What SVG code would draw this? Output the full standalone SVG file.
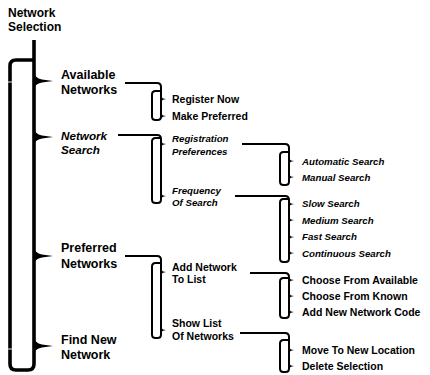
<svg xmlns="http://www.w3.org/2000/svg" width="430" height="375" viewBox="0 0 430 375">
<style>
text{font-family:"Liberation Sans",Arial,sans-serif;font-weight:bold;fill:#000}
.t1{font-size:12.5px}
.t0{font-size:12px}
.i1{font-size:11.7px;font-style:italic}
.t2{font-size:10.5px}
.i2{font-size:9.7px;font-style:italic}
.main{fill:none;stroke:#000;stroke-width:3.6;stroke-linejoin:round;stroke-linecap:butt}
.sub{fill:none;stroke:#000;stroke-width:2;stroke-linejoin:round}
.tip{fill:#000;stroke:none}
.notch{stroke:#fff;stroke-width:0.9}
</style>
<defs>
<path id="btip" d="M33,-11 C34,-5 37,-2.5 42,-1.6 L53,0 L42,1.6 C37,2.5 34,5 33,11 Z"/>
</defs>
<rect width="430" height="375" fill="#fff"/>
<g id="connectors">
<path class="main" d="M34,40 V364 Q34,370 28,370 H16 Q10,370 10,364 V66 Q10,60 16,60 H34"/>
<use href="#btip" class="tip" y="81"/>
<use href="#btip" class="tip" y="137"/>
<use href="#btip" class="tip" y="256"/>
<use href="#btip" class="tip" y="346"/>
<line class="notch" x1="8" y1="82" x2="12" y2="82"/>
<line class="notch" x1="8" y1="349" x2="12" y2="349"/>
<path class="sub" d="M125,83 H157 Q161,83 161,87 V116.5 Q161,120 157.5,120 H155.5 Q152,120 152,116.5 V94.5 Q152,91 155.5,91 H161"/>
<path class="tip" d="M161,96.5 Q162.5,99 166,99 Q162.5,99 161,101.5 Z"/>
<path class="tip" d="M161,113.5 Q162.5,116 166,116 Q162.5,116 161,118.5 Z"/>
<path class="sub" d="M118,135 H157 Q161,135 161,139 V199.5 Q161,203 157.5,203 H155.5 Q152,203 152,199.5 V141.5 Q152,138 155.5,138 H161"/>
<path class="tip" d="M161,141.5 Q162.5,144 166,144 Q162.5,144 161,146.5 Z"/>
<path class="tip" d="M161,193.5 Q162.5,196 166,196 Q162.5,196 161,198.5 Z"/>
<path class="sub" d="M242,144 H285 Q289,144 289,148 V181.5 Q289,185 285.5,185 H283.5 Q280,185 280,181.5 V155.5 Q280,152 283.5,152 H289"/>
<path class="tip" d="M289,158.5 Q290.5,161 294,161 Q290.5,161 289,163.5 Z"/>
<path class="tip" d="M289,174.5 Q290.5,177 294,177 Q290.5,177 289,179.5 Z"/>
<path class="sub" d="M235,196 H285 Q289,196 289,200 V258.5 Q289,262 285.5,262 H283.5 Q280,262 280,258.5 V202.5 Q280,199 283.5,199 H289"/>
<path class="tip" d="M289,201.5 Q290.5,204 294,204 Q290.5,204 289,206.5 Z"/>
<path class="tip" d="M289,217.5 Q290.5,220 294,220 Q290.5,220 289,222.5 Z"/>
<path class="tip" d="M289,234.5 Q290.5,237 294,237 Q290.5,237 289,239.5 Z"/>
<path class="tip" d="M289,250.5 Q290.5,253 294,253 Q290.5,253 289,255.5 Z"/>
<path class="sub" d="M125,256 H157 Q161,256 161,260 V334.5 Q161,338 157.5,338 H155.5 Q152,338 152,334.5 V266.5 Q152,263 155.5,263 H161"/>
<path class="tip" d="M161,269.5 Q162.5,272 166,272 Q162.5,272 161,274.5 Z"/>
<path class="tip" d="M161,327.5 Q162.5,330 166,330 Q162.5,330 161,332.5 Z"/>
<path class="sub" d="M250,273 H285 Q289,273 289,277 V314.5 Q289,318 285.5,318 H283.5 Q280,318 280,314.5 V281.5 Q280,278 283.5,278 H289"/>
<path class="tip" d="M289,277.5 Q290.5,280 294,280 Q290.5,280 289,282.5 Z"/>
<path class="tip" d="M289,293.5 Q290.5,296 294,296 Q290.5,296 289,298.5 Z"/>
<path class="tip" d="M289,309.5 Q290.5,312 294,312 Q290.5,312 289,314.5 Z"/>
<path class="sub" d="M240,333 H285 Q289,333 289,337 V368.5 Q289,372 285.5,372 H283.5 Q280,372 280,368.5 V343.5 Q280,340 283.5,340 H289"/>
<path class="tip" d="M289,347.5 Q290.5,350 294,350 Q290.5,350 289,352.5 Z"/>
<path class="tip" d="M289,363.5 Q290.5,366 294,366 Q290.5,366 289,368.5 Z"/>
</g>
<g id="network-selection"><text class="t0" x="8" y="17">Network</text><text class="t0" x="8" y="31">Selection</text></g>
<g id="available-networks"><text class="t1" x="61" y="79">Available</text><text class="t1" x="61" y="94">Networks</text></g>
<g id="network-search"><text class="i1" x="61" y="140">Network</text><text class="i1" x="61" y="154">Search</text></g>
<g id="preferred-networks"><text class="t1" x="61" y="252">Preferred</text><text class="t1" x="61" y="268">Networks</text></g>
<g id="find-new-network"><text class="t1" x="61" y="344">Find New</text><text class="t1" x="61" y="359">Network</text></g>
<g id="register-now"><text class="t2" x="172" y="103">Register Now</text></g>
<g id="make-preferred"><text class="t2" x="172" y="120">Make Preferred</text></g>
<g id="registration-preferences"><text class="i2" x="172" y="142">Registration</text><text class="i2" x="172" y="155">Preferences</text></g>
<g id="frequency-of-search"><text class="i2" x="172" y="194">Frequency</text><text class="i2" x="172" y="206">Of Search</text></g>
<g id="add-network-to-list"><text class="t2" x="172" y="271">Add Network</text><text class="t2" x="172" y="283">To List</text></g>
<g id="show-list-of-networks"><text class="t2" x="172" y="327">Show List</text><text class="t2" x="172" y="340">Of Networks</text></g>
<g id="automatic-search"><text class="i2" x="302" y="165">Automatic Search</text></g>
<g id="manual-search"><text class="i2" x="302" y="181">Manual Search</text></g>
<g id="slow-search"><text class="i2" x="302" y="207">Slow Search</text></g>
<g id="medium-search"><text class="i2" x="302" y="224">Medium Search</text></g>
<g id="fast-search"><text class="i2" x="302" y="240">Fast Search</text></g>
<g id="continuous-search"><text class="i2" x="302" y="257">Continuous Search</text></g>
<g id="choose-from-available"><text class="t2" x="302" y="284">Choose From Available</text></g>
<g id="choose-from-known"><text class="t2" x="302" y="300">Choose From Known</text></g>
<g id="add-new-network-code"><text class="t2" x="302" y="316">Add New Network Code</text></g>
<g id="move-to-new-location"><text class="t2" x="302" y="354">Move To New Location</text></g>
<g id="delete-selection"><text class="t2" x="302" y="370">Delete Selection</text></g>
</svg>
